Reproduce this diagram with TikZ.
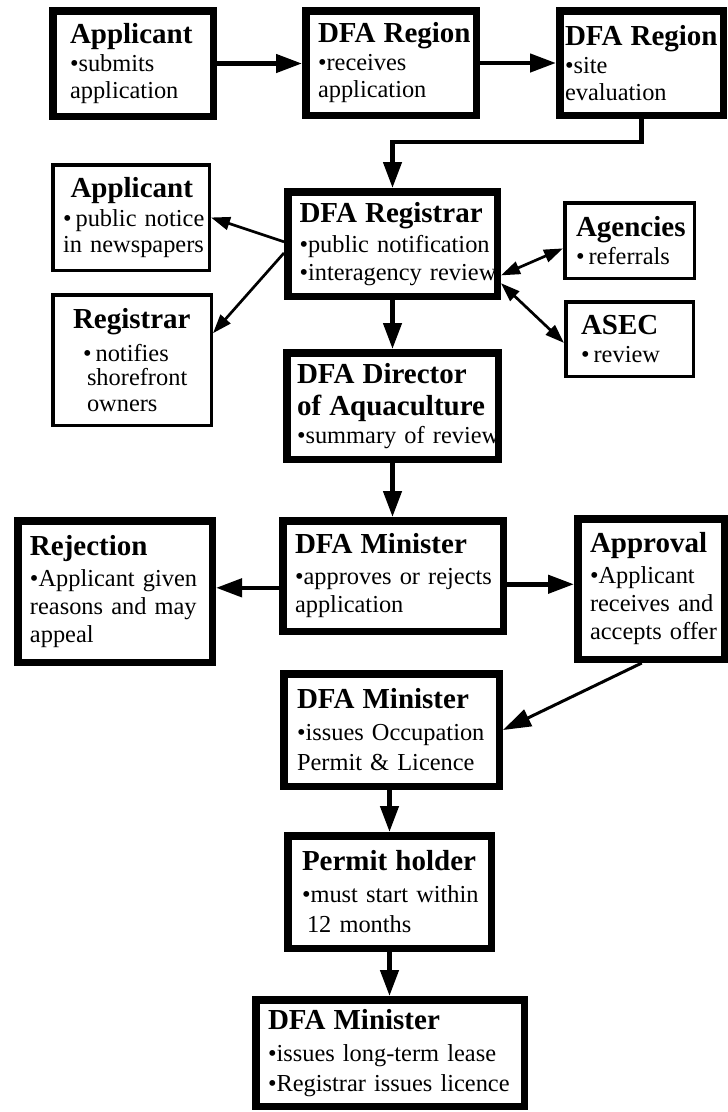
\documentclass[tikz,border=0pt]{standalone}
\usepackage{fontspec}
\setmainfont{Liberation Serif}
\usetikzlibrary{arrows.meta,calc}
\hyphenpenalty=10000
\exhyphenpenalty=10000
\hbadness=10000
\hfuzz=100pt
\newcommand\bxtitle[1]{{\fontsize{29}{29}\selectfont\bfseries #1}}
\begin{document}
\begin{tikzpicture}[x=1pt,y=-1pt,
  thickbox/.style={draw, line width=7.5pt, rectangle, align=left, inner ysep=0pt, font=\fontsize{24.4}{28}\selectfont},
  thinbox/.style={draw, line width=3.5pt, rectangle, align=left, inner ysep=0pt, font=\fontsize{24.4}{28}\selectfont},
  bigarrow/.style={line width=4.5pt, -{Triangle[length=26pt,width=18pt]}},
  midarrow/.style={line width=3pt, -{Triangle[length=28pt,width=18pt]}},
  smallarrow/.style={line width=2.7pt, -{Triangle[length=19pt,width=13pt]}},
  dblarrow/.style={line width=2.7pt, {Triangle[length=19pt,width=13pt]}-{Triangle[length=19pt,width=13pt]}},
]
\useasboundingbox (0,0) rectangle (728,1112);

% top row
\node[thickbox, minimum width=160.5pt, minimum height=105.5pt, inner xsep=17.25pt, text width=126pt] (app1) at (133,63.5)
  {\bxtitle{Applicant}\\ •submits\\[-1pt] application};
\node[thickbox, minimum width=170.5pt, minimum height=104.5pt, inner xsep=12.25pt, text width=146pt] (reg1) at (391,63)
  {\bxtitle{DFA~Region}\\ •receives\\[-1pt] application};
\node[thickbox, minimum width=163.5pt, minimum height=104.5pt, inner xsep=5.25pt, text width=153pt] (reg2) at (641.5,63)
  {\bxtitle{DFA~Region}\\ •site\\[-1pt] evaluation};

% registrar row
\node[thickbox, minimum width=209.5pt, minimum height=104.5pt, inner xsep=11.75pt, text width=186pt] (registrar) at (392.5,244)
  {\bxtitle{DFA~Registrar}\\[2pt] •public~notification\\ •interagency~review};
\node[thinbox, minimum width=156.5pt, minimum height=105.5pt, inner xsep=10.25pt, text width=136pt] (app2) at (131,217.5)
  {\hspace*{7.5pt}\bxtitle{Applicant}\\[1pt] •\,public~notice\\[-2pt] in~newspapers};
\node[thinbox, minimum width=158.5pt, minimum height=130.5pt, inner xsep=20.25pt, text width=118pt] (registrar2) at (132,360)
  {\bxtitle{Registrar}\\[5pt] \hspace*{10pt}•\,notifies\\[-4pt] \hspace*{14pt}shorefront\\[-2pt] \hspace*{14pt}owners};
\node[thinbox, minimum width=129.5pt, minimum height=75.5pt, inner xsep=11.25pt, text width=107pt] (agencies) at (629.5,240.5)
  {\bxtitle{Agencies}\\ •\,referrals};
\node[thinbox, minimum width=127.5pt, minimum height=74.5pt, inner xsep=15.25pt, text width=97pt] (asec) at (629.5,339)
  {\bxtitle{ASEC}\\ •\,review};

% director
\node[thickbox, minimum width=211.5pt, minimum height=106.5pt, inner xsep=10.25pt, text width=191pt] (director) at (392.5,406)
  {\bxtitle{DFA~Director}\\[4pt] \bxtitle{of~Aquaculture}\\ •summary~of~review};

% minister row
\node[thickbox, minimum width=220.5pt, minimum height=110.5pt, inner xsep=12.25pt, text width=196pt] (min1) at (393,576)
  {\bxtitle{DFA~Minister}\\[3pt] •approves~or~rejects\\ application};
\node[thickbox, minimum width=194.5pt, minimum height=141.5pt, inner xsep=12.25pt, text width=170pt] (rejection) at (115,591.5)
  {\bxtitle{Rejection}\\[3pt] •Applicant~given\\ reasons~and~may\\ appeal};
\node[thickbox, minimum width=146.5pt, minimum height=140.5pt, inner xsep=12.25pt, text width=122pt] (approval) at (651,589)
  {\bxtitle{Approval}\\[3pt] •Applicant\\ receives~and\\ accepts~offer};

% lower column
\node[thickbox, minimum width=215.5pt, minimum height=112.5pt, inner xsep=13.25pt, text width=189pt] (min2) at (391.5,730)
  {\bxtitle{DFA~Minister}\\[4pt] •issues~Occupation\\[2pt] Permit~\&~Licence};
\node[thickbox, minimum width=203.5pt, minimum height=112.5pt, inner xsep=14.25pt, text width=175pt] (permit) at (389.5,892)
  {\bxtitle{Permit~holder}\\[4pt] •must~start~within\\[2pt] \hspace*{5pt}12~months};
\node[thickbox, minimum width=268.5pt, minimum height=106.5pt, inner xsep=12.25pt, text width=244pt] (min3) at (390,1053)
  {\bxtitle{DFA~Minister}\\[4pt] •issues~long-term~lease\\[2pt] •Registrar~issues~licence};

% connectors
\draw[bigarrow] (app1.east) -- (app1.east -| reg1.west);
\draw[bigarrow] (reg1.east) -- (reg1.east -| reg2.west);
\draw[bigarrow] (reg2.south) -- ++(0,23) -| (registrar.north);

\draw[smallarrow] ($(registrar.north west)!0.48!(registrar.south west)$) -- (app2.east);
\draw[smallarrow] ($(registrar.north west)!0.58!(registrar.south west)$) -- ($(registrar2.north east)!0.3!(registrar2.south east)$);
\draw[dblarrow] ($(registrar.north east)!0.78!(registrar.south east)$) -- ($(agencies.north west)!0.6!(agencies.south west)$);
\draw[dblarrow] ($(registrar.north east)!0.85!(registrar.south east)$) -- ($(asec.north west)!0.55!(asec.south west)$);

\draw[bigarrow] (registrar.south) -- (director.north);
\draw[bigarrow] (director.south) -- (director.south |- min1.north);
\coordinate (m1l) at ($(min1.north west)!0.6!(min1.south west)$);
\draw[bigarrow] (m1l) -- (m1l -| rejection.east);
\coordinate (m1r) at ($(min1.north east)!0.57!(min1.south east)$);
\draw[bigarrow] (m1r) -- (m1r -| approval.west);
\draw[midarrow] ($(approval.south west)!0.44!(approval.south east)$) -- (min2.east);
\draw[bigarrow] (min2.south -| permit.north) -- (permit.north);
\draw[bigarrow] (permit.south) -- (permit.south |- min3.north);
\end{tikzpicture}
\end{document}
